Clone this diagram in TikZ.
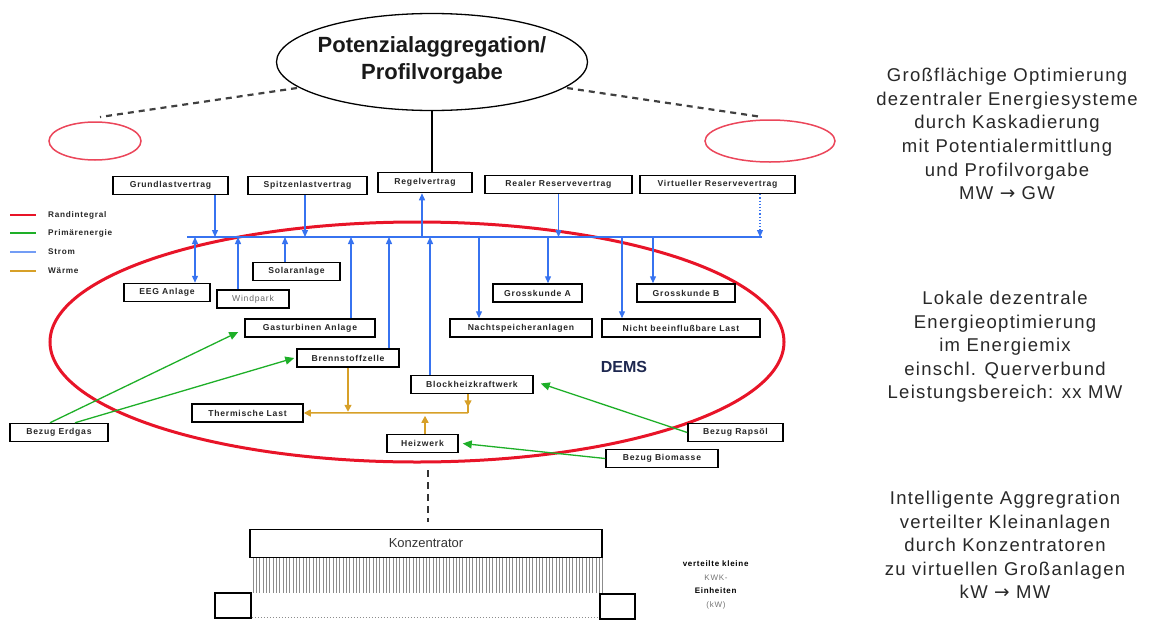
\documentclass[tikz,border=0pt]{standalone}
\usepackage{fontspec}
\setmainfont{Liberation Sans}
\newfontfamily\lsp[LetterSpace=9]{Liberation Sans}
\newfontfamily\rsp[LetterSpace=7]{Liberation Sans}
\newfontfamily\arrf{DejaVu Sans}
\usetikzlibrary{arrows.meta,shapes.geometric}
\definecolor{myblue}{RGB}{55,115,240}
\definecolor{mygreen}{RGB}{30,175,40}
\definecolor{myorange}{RGB}{215,160,40}
\definecolor{myred}{RGB}{232,20,40}
\definecolor{pinkred}{RGB}{235,70,90}
\definecolor{navy}{RGB}{30,40,80}
\definecolor{txt}{RGB}{40,40,40}
\begin{document}
\begin{tikzpicture}[x=1pt,y=-1pt,
  bx/.style={draw=black, line width=1.5pt, inner sep=0pt, minimum height=18pt,
    font=\lsp\fontsize{8.6}{10}\selectfont\bfseries, text=black!85},
  bl/.style={myblue, line width=1.3pt, -{Triangle[width=6pt,length=7pt]}},
  blb/.style={myblue, line width=1.3pt, {Triangle[width=6pt,length=7pt]}-{Triangle[width=6pt,length=7pt]}},
  gr/.style={mygreen, line width=1.3pt, -{Triangle[width=8pt,length=9pt]}},
  orr/.style={myorange, line width=1.5pt, -{Triangle[width=7pt,length=7pt]}},
  righttxt/.style={align=center, text=txt, font=\rsp\fontsize{18.5}{23.6}\selectfont},
  legtxt/.style={anchor=west, font=\lsp\fontsize{8.2}{9}\selectfont\bfseries, text=black!85},
  dashgray/.style={black!75, line width=2.2pt, dash pattern=on 6pt off 5pt}
]
\useasboundingbox (0,0) rectangle (1156,624);

% big red ellipse (DEMS)
\node (dems) [ellipse, draw=myred, line width=3pt, minimum width=734pt, minimum height=240pt] at (417,342) {};
\node (demslbl) [font=\fontsize{16}{18}\selectfont\bfseries, text=navy] at (624,367) {DEMS};

% top ellipse
\node (top) [ellipse, draw=black, line width=1.3pt, minimum width=311pt, minimum height=97pt, inner sep=0pt] at (432,62) {};
\node (toplbl) [align=center, font=\fontsize{22}{27}\selectfont\bfseries, text=black!90] at (432,60)
  {Potenzialaggregation/\\Profilvorgabe};

% small red ellipses
\node (lred) [ellipse, draw=pinkred, line width=1.5pt, minimum width=92pt, minimum height=38pt] at (95,141) {};
\node (rred) [ellipse, draw=pinkred, line width=1.5pt, minimum width=130pt, minimum height=42pt] at (770,141) {};

\coordinate (dl1) at (297,88);
\coordinate (dl2) at (100,117);
\coordinate (dr1) at (567,88);
\coordinate (dr2) at (762,117);
\draw[dashgray] (dl1) -- (dl2);
\draw[dashgray] (dr1) -- (dr2);

% top row boxes
\node (grund) [bx, minimum width=115pt] at (170.5,185.5) {Grundlastvertrag};
\node (spitz) [bx, minimum width=119pt] at (307.5,185.5) {Spitzenlastvertrag};
\node (regel) [bx, minimum width=94pt, minimum height=20pt] at (425,182.5) {Regelvertrag};
\node (realer) [bx, minimum width=147pt] at (558.5,184.5) {Realer Reservevertrag};
\node (virt) [bx, minimum width=155pt] at (717.5,184.5) {Virtueller Reservevertrag};

\draw[black, line width=1.5pt] (top.south) -- (regel.north -| top.south);

% bus
\coordinate (busL) at (187,237);
\coordinate (busR) at (762,237);
\draw[myblue, line width=1.3pt] (busL) -- (busR);

% boxes inside
\node (eeg) [bx, minimum width=86pt] at (167,292.5) {EEG Anlage};
\node (wind) [bx, minimum width=72pt, font=\lsp\fontsize{8.6}{10}\selectfont, text=black!60] at (253,299) {Windpark};
\node (solar) [bx, minimum width=87pt] at (296.5,271.5) {Solaranlage};
\node (gas) [bx, minimum width=130pt] at (310,328) {Gasturbinen Anlage};
\node (brenn) [bx, minimum width=102pt] at (348,358) {Brennstoffzelle};
\node (bhkw) [bx, minimum width=122pt] at (472,384.5) {Blockheizkraftwerk};
\node (heiz) [bx, minimum width=71pt] at (422.5,443.5) {Heizwerk};
\node (therm) [bx, minimum width=111pt] at (247.5,413) {Thermische Last};
\node (nacht) [bx, minimum width=142pt] at (521,328) {Nachtspeicheranlagen};
\node (nicht) [bx, minimum width=158pt] at (681,328) {Nicht beeinflußbare Last};
\node (gka) [bx, minimum width=89pt] at (537.5,293) {Grosskunde A};
\node (gkb) [bx, minimum width=98pt] at (686,293) {Grosskunde B};
\node (erdgas) [bx, minimum width=98pt] at (59,432.5) {Bezug Erdgas};
\node (raps) [bx, minimum width=95pt] at (735.5,432.5) {Bezug Rapsöl};
\node (biom) [bx, minimum width=112pt] at (662,458.5) {Bezug Biomasse};

% blue connectors, contracts
\draw[bl] ([xshift=44.5pt]grund.south) -- ([xshift=44.5pt]grund.south |- busL);
\draw[bl] ([xshift=-2.5pt]spitz.south) -- ([xshift=-2.5pt]spitz.south |- busL);
\draw[bl] ([xshift=-3pt]regel.south |- busL) -- ([xshift=-3pt]regel.south);
\draw[bl] (realer.south) -- (realer.south |- busL);
\draw[myblue, line width=1.2pt, dotted, -{Triangle[width=6pt,length=7pt]}] ([xshift=42.5pt]virt.south) -- ([xshift=42.5pt]virt.south |- busL);

% blue connectors, units
\draw[blb] ([xshift=28pt]eeg.north |- busL) -- ([xshift=28pt]eeg.north);
\draw[bl] ([xshift=-15pt]wind.north) -- ([xshift=-15pt]wind.north |- busL);
\draw[bl] ([xshift=-11.5pt]solar.north) -- ([xshift=-11.5pt]solar.north |- busL);
\draw[bl] ([xshift=41pt]gas.north) -- ([xshift=41pt]gas.north |- busL);
\draw[bl] ([xshift=41pt]brenn.north) -- ([xshift=41pt]brenn.north |- busL);
\draw[bl] ([xshift=-42pt]bhkw.north) -- ([xshift=-42pt]bhkw.north |- busL);
\draw[bl] ([xshift=-42pt]nacht.north |- busL) -- ([xshift=-42pt]nacht.north);
\draw[bl] ([xshift=10.5pt]gka.north |- busL) -- ([xshift=10.5pt]gka.north);
\draw[bl] ([xshift=-59pt]nicht.north |- busL) -- ([xshift=-59pt]nicht.north);
\draw[bl] ([xshift=-33pt]gkb.north |- busL) -- ([xshift=-33pt]gkb.north);

% green connectors
\draw[gr] ([xshift=-9pt]erdgas.north) -- ([xshift=-6pt,yshift=-4pt]gas.west);
\draw[gr] ([xshift=16pt]erdgas.north) -- ([xshift=-2pt]brenn.west);
\draw[gr] (raps.west) -- ([xshift=7pt,yshift=1pt]bhkw.east);
\draw[gr] (biom.west) -- ([xshift=4pt]heiz.east);

% orange connectors
\draw[orr] (brenn.south) -- ++(0,44);
\draw[myorange, line width=1.5pt] ([xshift=-4pt]bhkw.south) -- ++(0,18.5) coordinate (hc);
\draw[orr] ([xshift=-4pt]bhkw.south) -- ++(0,13);
\draw[orr] (hc) -- (therm.east);
\draw[orr] ([xshift=2.5pt]heiz.north) -- ++(0,-18);

% legend
\coordinate (lg1) at (10,215);
\coordinate (lg2) at (10,233);
\coordinate (lg3) at (10,252);
\coordinate (lg4) at (10,271);
\draw[myred, line width=1.8pt] (lg1) -- ++(26,0) node[legtxt, xshift=8pt] (l1) {Randintegral};
\draw[mygreen, line width=1.8pt] (lg2) -- ++(26,0) node[legtxt, xshift=8pt] (l2) {Primärenergie};
\draw[myblue!70, line width=1.8pt] (lg3) -- ++(26,0) node[legtxt, xshift=8pt] (l3) {Strom};
\draw[myorange, line width=1.8pt] (lg4) -- ++(26,0) node[legtxt, xshift=8pt] (l4) {Wärme};

% bottom: Konzentrator
\coordinate (dtop) at (428,470);
\coordinate (dbot) at (428,522);
\draw[black!80, line width=2.5pt, dash pattern=on 7pt off 5pt] (dtop) -- (dbot);
\node (konz) [draw=black, line width=1.5pt, minimum width=352pt, minimum height=28pt, inner sep=0pt,
  font=\fontsize{13}{15}\selectfont, text=black!80] at (426,543.5) {Konzentrator};
\foreach \i in {0,...,105} {
  \draw[black!45, line width=0.6pt] (253+\i*3.33,558) -- ++(0,35);
}
\node (sqL) [draw=black, line width=1.5pt, minimum width=36pt, minimum height=25pt, inner sep=0pt] at (233,605.5) {};
\node (sqR) [draw=black, line width=1.5pt, minimum width=35pt, minimum height=25pt, inner sep=0pt] at (617.5,606.5) {};
\draw[black!45, line width=1pt, dotted] ([yshift=1.5pt]sqL.south east) -- ([yshift=2.5pt]sqR.south west);

\node (kwk) [align=center, font=\lsp\fontsize{8}{13.5}\selectfont] at (716,585)
  {\textbf{verteilte kleine}\\ \textcolor{black!55}{KWK-}\\ \textbf{Einheiten}\\ \textcolor{black!55}{(kW)}};

% right texts
\node (r1) [righttxt] at (1007,134) {Großflächige Optimierung\\dezentraler Energiesysteme\\durch Kaskadierung\\mit Potentialermittlung\\und Profilvorgabe\\MW {\arrf →} GW};
\node (r2) [righttxt] at (1005,347) {Lokale dezentrale\\Energieoptimierung\\im Energiemix\\einschl. Querverbund\\Leistungsbereich: xx MW};
\node (r3) [righttxt] at (1005,545) {Intelligente Aggregration\\verteilter Kleinanlagen\\durch Konzentratoren\\zu virtuellen Großanlagen\\kW {\arrf →} MW};
\end{tikzpicture}
\end{document}
